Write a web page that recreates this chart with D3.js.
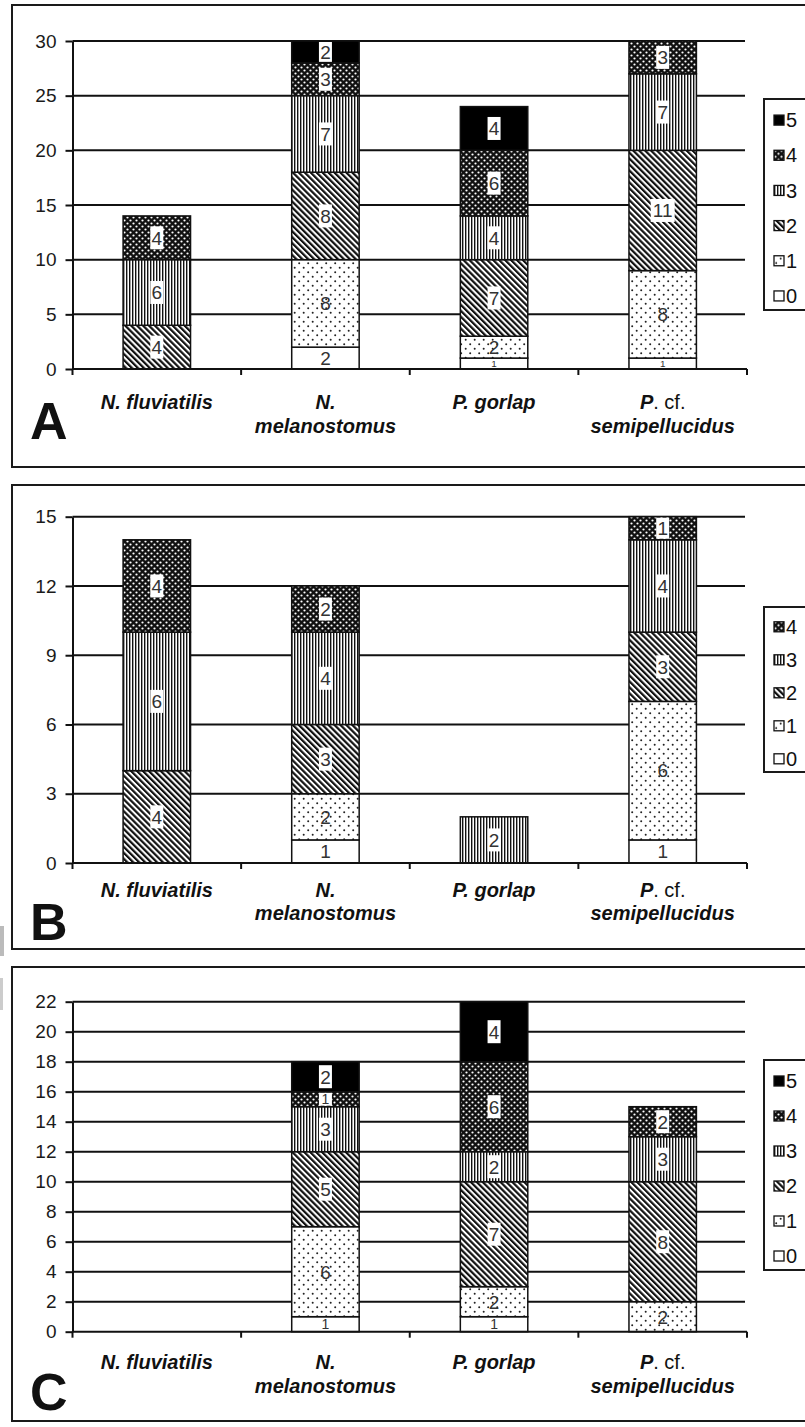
<!DOCTYPE html>
<html>
<head>
<meta charset="utf-8">
<script src="https://cdn.jsdelivr.net/npm/d3@7"></script>
<style>
  body { margin: 0; background: #fff; }
  svg { display: block; font-family: "Liberation Sans", Arial, sans-serif; }
</style>
</head>
<body>
<div id="wrapper"></div>
<script>
// species on the x axis (first word bold italic, "cf." plain)
const categories = ["N. fluviatilis", "N. melanostomus", "P. gorlap", "P. cf. semipellucidus"];

// stacked counts, one row per class (bottom to top), one column per species
const classesA = ["0", "1", "2", "3", "4", "5"];
const valuesA = [
  [0, 2, 1, 1],
  [0, 8, 2, 8],
  [4, 8, 7, 11],
  [6, 7, 4, 7],
  [4, 3, 6, 3],
  [0, 2, 4, 0],
];
const ticksA = [0, 5, 10, 15, 20, 25, 30];

const classesB = ["0", "1", "2", "3", "4"];
const valuesB = [
  [0, 1, 0, 1],
  [0, 2, 0, 6],
  [4, 3, 0, 3],
  [6, 4, 2, 4],
  [4, 2, 0, 1],
];
const ticksB = [0, 3, 6, 9, 12, 15];

const classesC = ["0", "1", "2", "3", "4", "5"];
const valuesC = [
  [0, 1, 1, 0],
  [0, 6, 2, 2],
  [0, 5, 7, 8],
  [0, 3, 2, 3],
  [0, 1, 6, 2],
  [0, 2, 4, 0],
];
const ticksC = [0, 2, 4, 6, 8, 10, 12, 14, 16, 18, 20, 22];

const panelLetters = ["A", "B", "C"];

const width = 805;
const height = 1427;

const svg = d3.select("#wrapper")
  .append("svg")
  .attr("width", width)
  .attr("height", height);

// ---- fill patterns, one per class ----
const defs = svg.append("defs");

let p = defs.append("pattern").attr("id", "pat1")
  .attr("patternUnits", "userSpaceOnUse").attr("width", 9).attr("height", 9);
p.append("rect").attr("width", 9).attr("height", 9).attr("fill", "#fff");
p.append("circle").attr("cx", 2.2).attr("cy", 2.2).attr("r", 1).attr("fill", "#222");
p.append("circle").attr("cx", 6.7).attr("cy", 6.7).attr("r", 1).attr("fill", "#222");

p = defs.append("pattern").attr("id", "pat2")
  .attr("patternUnits", "userSpaceOnUse").attr("width", 4.2).attr("height", 10)
  .attr("patternTransform", "rotate(-45)");
p.append("rect").attr("width", 4.2).attr("height", 10).attr("fill", "#fff");
p.append("rect").attr("width", 2.2).attr("height", 10).attr("fill", "#111");

p = defs.append("pattern").attr("id", "pat3")
  .attr("patternUnits", "userSpaceOnUse").attr("width", 3).attr("height", 10);
p.append("rect").attr("width", 3).attr("height", 10).attr("fill", "#fff");
p.append("rect").attr("width", 1.4).attr("height", 10).attr("fill", "#111");

p = defs.append("pattern").attr("id", "pat4")
  .attr("patternUnits", "userSpaceOnUse").attr("width", 6).attr("height", 6);
p.append("rect").attr("width", 6).attr("height", 6).attr("fill", "#111");
p.append("circle").attr("cx", 1.5).attr("cy", 1.5).attr("r", 1.1).attr("fill", "#fff");
p.append("circle").attr("cx", 4.5).attr("cy", 4.5).attr("r", 1.1).attr("fill", "#fff");

const fills = ["#fff", "url(#pat1)", "url(#pat2)", "url(#pat3)", "url(#pat4)", "#000"];

// scanner smudge on the left edge
svg.append("rect").attr("x", 0).attr("y", 926).attr("width", 4).attr("height", 30).attr("fill", "#bbb");
svg.append("rect").attr("x", 0).attr("y", 978).attr("width", 3).attr("height", 32).attr("fill", "#ccc");

const panels = [
  { classes: classesA, values: valuesA, ticks: ticksA, top: 5, bottom: 467,
    y0: 369, y1: 41, label1: 402, label2: 426, letterY: 439,
    legTop: 99, legBottom: 310 },
  { classes: classesB, values: valuesB, ticks: ticksB, top: 485, bottom: 949,
    y0: 863, y1: 516.7, label1: 890, label2: 913, letterY: 940,
    legTop: 607, legBottom: 772 },
  { classes: classesC, values: valuesC, ticks: ticksC, top: 967, bottom: 1421,
    y0: 1331.7, y1: 1001.7, label1: 1362, label2: 1386, letterY: 1410,
    legTop: 1060, legBottom: 1270 },
];

const plotLeft = 72.5;
const plotRight = 747;

panels.forEach((cfg, pi) => {
  const g = svg.append("g");

  // panel frame (runs past the right edge of the picture)
  g.append("rect")
    .attr("x", 12).attr("y", cfg.top)
    .attr("width", 820).attr("height", cfg.bottom - cfg.top)
    .attr("fill", "none").attr("stroke", "#1a1a1a").attr("stroke-width", 2);

  const xScaler = d3.scaleBand()
    .domain(categories)
    .range([plotLeft, plotRight])
    .paddingInner(0.6)
    .paddingOuter(0.3);

  const yScaler = d3.scaleLinear()
    .domain([0, d3.max(cfg.ticks)])
    .range([cfg.y0, cfg.y1]);

  // gridlines
  g.append("g").selectAll("line")
    .data(cfg.ticks.filter(t => t > 0))
    .join("line")
    .attr("x1", plotLeft).attr("x2", 745)
    .attr("y1", d => yScaler(d)).attr("y2", d => yScaler(d))
    .attr("stroke", "#111").attr("stroke-width", 2);

  // y axis
  const yAxisGen = d3.axisLeft(yScaler)
    .tickValues(cfg.ticks)
    .tickSize(7)
    .tickPadding(9)
    .tickSizeOuter(0);
  const yAxis = g.append("g")
    .attr("transform", `translate(${plotLeft},0)`)
    .call(yAxisGen);
  yAxis.select(".domain").attr("stroke", "#111").attr("stroke-width", 2);
  yAxis.selectAll(".tick line").attr("stroke", "#111").attr("stroke-width", 2);
  yAxis.selectAll(".tick text")
    .attr("font-size", "19px")
    .attr("font-family", "Liberation Sans, Arial, sans-serif")
    .attr("fill", "#1a1a1a");

  // stacked bars
  const rows = categories.map((c, ci) => {
    const r = { cat: c };
    cfg.classes.forEach((k, ki) => { r[k] = cfg.values[ki][ci]; });
    return r;
  });
  const stack = d3.stack().keys(cfg.classes)(rows);

  const bw = xScaler.bandwidth();

  // each layer draws its segments and then its labels
  const layers = g.append("g").selectAll("g")
    .data(stack)
    .join("g");

  layers.each(function(layer, li) {
    const lg = d3.select(this);
    const segs = layer.filter(s => s[1] > s[0]);

    lg.selectAll("rect.seg")
      .data(segs)
      .join("rect")
      .attr("class", "seg")
      .attr("x", d => xScaler(d.data.cat))
      .attr("y", d => yScaler(d[1]))
      .attr("width", bw)
      .attr("height", d => yScaler(d[0]) - yScaler(d[1]))
      .attr("fill", fills[li])
      .attr("stroke", "#111")
      .attr("stroke-width", 1.5);

    const labels = lg.selectAll("g.lab")
      .data(segs.map(s => ({
        cat: s.data.cat, v: s[1] - s[0],
        mid: (yScaler(s[0]) + yScaler(s[1])) / 2,
        h: yScaler(s[0]) - yScaler(s[1]),
      })))
      .join("g")
      .attr("class", "lab")
      .attr("transform", d => `translate(${xScaler(d.cat) + bw / 2},${d.mid})`);

    if (li >= 2) {
      labels.append("rect")
        .attr("x", d => d.v >= 10 ? -12 : -6.5)
        .attr("y", d => -Math.min(11.5, d.h / 2 - 1))
        .attr("width", d => d.v >= 10 ? 24 : 13)
        .attr("height", d => Math.min(23, d.h - 2))
        .attr("fill", "#fff");
    }

    // shrink the text when the segment is too short for it
    labels.append("text")
      .attr("text-anchor", "middle")
      .attr("dy", "0.36em")
      .attr("font-size", d => Math.min(19, d.h - 1) + "px")
      .attr("fill", "#333")
      .text(d => d.v);
  });

  // x axis line with category boundary ticks
  g.append("line")
    .attr("x1", plotLeft).attr("x2", plotRight)
    .attr("y1", cfg.y0).attr("y2", cfg.y0)
    .attr("stroke", "#111").attr("stroke-width", 2);
  const step = xScaler.step();
  const bounds = categories.map(c => xScaler(c) - (step - bw) / 2).concat([plotRight]);
  g.append("g").selectAll("line")
    .data(bounds)
    .join("line")
    .attr("x1", d => d).attr("x2", d => d)
    .attr("y1", cfg.y0).attr("y2", cfg.y0 + 6)
    .attr("stroke", "#111").attr("stroke-width", 2);

  // category labels
  categories.forEach(c => {
    const cx = xScaler(c) + bw / 2;
    const t = g.append("text")
      .attr("x", cx)
      .attr("text-anchor", "middle")
      .attr("font-size", "20px")
      .attr("fill", "#111");
    if (c === "N. melanostomus") {
      t.attr("y", cfg.label1).attr("dy", "0.35em")
        .attr("font-weight", "bold").attr("font-style", "italic").text("N.");
      g.append("text").attr("x", cx).attr("y", cfg.label2).attr("dy", "0.35em")
        .attr("text-anchor", "middle").attr("font-size", "20px").attr("fill", "#111")
        .attr("font-weight", "bold").attr("font-style", "italic").text("melanostomus");
    } else if (c === "P. cf. semipellucidus") {
      t.attr("y", cfg.label1).attr("dy", "0.35em");
      t.append("tspan").attr("font-weight", "bold").attr("font-style", "italic").text("P");
      t.append("tspan").text(". cf.");
      g.append("text").attr("x", cx).attr("y", cfg.label2).attr("dy", "0.35em")
        .attr("text-anchor", "middle").attr("font-size", "20px").attr("fill", "#111")
        .attr("font-weight", "bold").attr("font-style", "italic").text("semipellucidus");
    } else {
      t.attr("y", cfg.label1).attr("dy", "0.35em")
        .attr("font-weight", "bold").attr("font-style", "italic").text(c);
    }
  });

  // panel letter
  g.append("text")
    .attr("x", 30).attr("y", cfg.letterY)
    .attr("font-size", "52px").attr("font-weight", "bold")
    .attr("fill", "#111")
    .text(panelLetters[pi]);

  // legend
  const n = cfg.classes.length;
  const legStep = (cfg.legBottom - cfg.legTop) / n;
  g.append("rect")
    .attr("x", 764).attr("y", cfg.legTop)
    .attr("width", 60).attr("height", cfg.legBottom - cfg.legTop)
    .attr("fill", "#fff").attr("stroke", "#1a1a1a").attr("stroke-width", 2);
  const legItems = g.append("g").selectAll("g")
    .data(cfg.classes.map((k, i) => ({ k: k, i: i })).reverse())
    .join("g")
    .attr("transform", (d, j) => `translate(774,${cfg.legTop + legStep * (j + 0.6)})`);
  legItems.append("rect")
    .attr("x", 0).attr("y", -5)
    .attr("width", 10).attr("height", 10)
    .attr("fill", d => fills[d.i])
    .attr("stroke", "#111").attr("stroke-width", 1.3);
  legItems.append("text")
    .attr("x", 12).attr("dy", "0.36em")
    .attr("font-size", "20px").attr("fill", "#111")
    .text(d => d.k);
});
</script>
</body>
</html>
